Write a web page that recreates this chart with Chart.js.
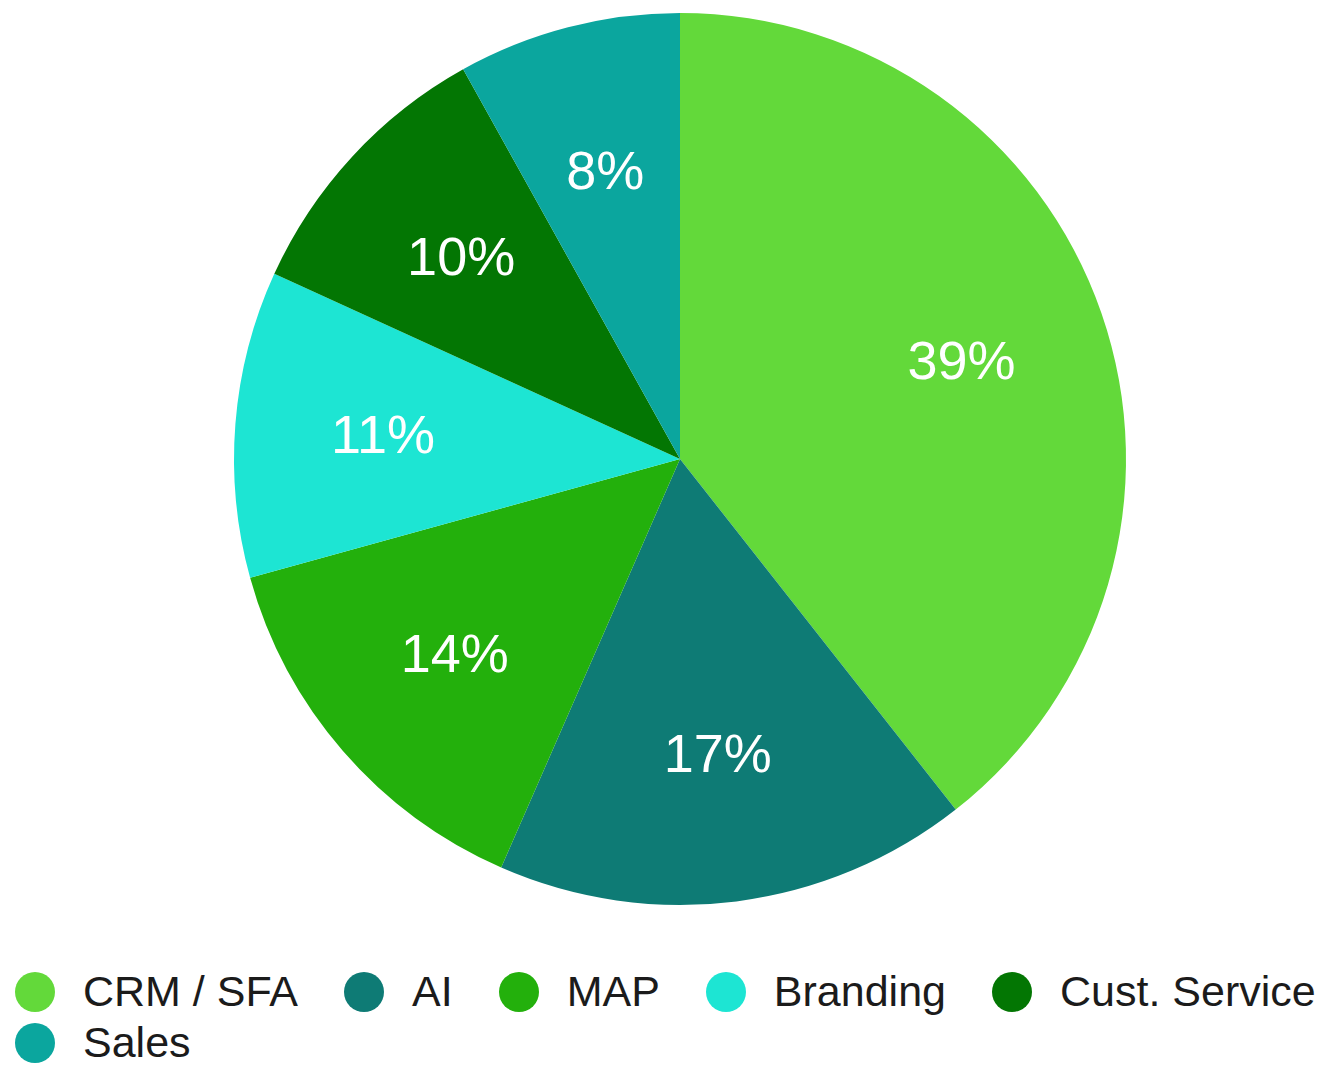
<!DOCTYPE html>
<html>
<head>
<meta charset="utf-8">
<title>Budget share by area</title>
<script src="https://cdn.jsdelivr.net/npm/chart.js@4/dist/chart.umd.min.js"></script>
<style>
  html, body { margin: 0; padding: 0; background: #ffffff; }
  #wrap { position: relative; width: 1325px; height: 1069px; overflow: hidden; }
  #pie { position: absolute; left: 0; top: 0; }
  #legend {
    position: absolute; left: 15px; top: 966px; width: 1310px;
    display: flex; flex-wrap: wrap; column-gap: 46px;
    font-family: "Liberation Sans", Arial, Helvetica, sans-serif;
    font-size: 43px; line-height: 51px; color: #1b1b1b;
  }
  .item { display: flex; align-items: center; white-space: nowrap; }
  .dot { width: 40px; height: 40px; border-radius: 50%; margin-right: 28px; flex: none; }
</style>
</head>
<body>
<div id="wrap">
  <canvas id="pie" width="1325" height="920"></canvas>
  <div id="legend"></div>
</div>
<script>
// Share of spend per area, in percent
const categories = ["CRM / SFA", "AI", "MAP", "Branding", "Cust. Service", "Sales"];
const shares = [39, 17, 14, 11, 10, 8];
const sliceColors = ["#63d93a", "#0e7b75", "#23b00c", "#1de5d3", "#037603", "#0ba69e"];

// Writes the percentage inside each slice
const sliceLabels = {
  id: "sliceLabels",
  afterDatasetsDraw(chart) {
    const ctx = chart.ctx;
    const meta = chart.getDatasetMeta(0);
    ctx.save();
    ctx.fillStyle = "#ffffff";
    ctx.font = '54px "Liberation Sans", Arial, Helvetica, sans-serif';
    ctx.textAlign = "center";
    ctx.textBaseline = "middle";
    meta.data.forEach((arc, i) => {
      const p = arc.getProps(["x", "y", "startAngle", "endAngle", "outerRadius"], true);
      const mid = (p.startAngle + p.endAngle) / 2;
      const r = p.outerRadius * 0.668;
      ctx.fillText(shares[i] + "%", p.x + Math.cos(mid) * r, p.y + Math.sin(mid) * r + 3);
    });
    ctx.restore();
  }
};

new Chart(document.getElementById("pie"), {
  type: "pie",
  data: {
    labels: categories,
    datasets: [{
      data: shares,
      backgroundColor: sliceColors,
      borderWidth: 0,
      hoverOffset: 0
    }]
  },
  options: {
    responsive: false,
    animation: false,
    layout: { padding: { left: 35, right: 0, top: 13, bottom: 15 } },
    plugins: {
      legend: { display: false },
      tooltip: { enabled: false }
    }
  },
  plugins: [sliceLabels]
});

// Legend built from the same category and colour lists
const legend = document.getElementById("legend");
categories.forEach((name, i) => {
  const item = document.createElement("div");
  item.className = "item";
  const dot = document.createElement("span");
  dot.className = "dot";
  dot.style.background = sliceColors[i];
  const text = document.createElement("span");
  text.textContent = name;
  item.appendChild(dot);
  item.appendChild(text);
  legend.appendChild(item);
});
</script>
</body>
</html>
